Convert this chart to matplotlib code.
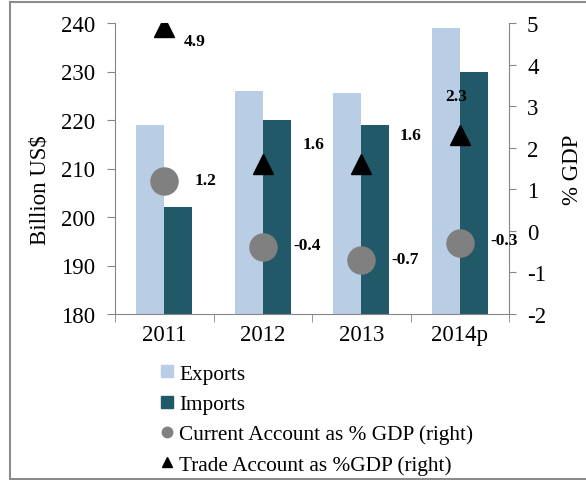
import matplotlib
matplotlib.use("Agg")
import matplotlib.pyplot as plt
import numpy as np
from matplotlib.lines import Line2D

years = ["2011", "2012", "2013", "2014p"]
exports = [219.0, 226.0, 225.5, 239.0]
imports = [202.0, 220.0, 219.0, 230.0]
current_account = [1.2, -0.4, -0.7, -0.3]
trade_account = [4.9, 1.6, 1.6, 2.3]

plt.rcParams['font.family'] = ['Liberation Serif', 'DejaVu Serif']
plt.rcParams['axes.unicode_minus'] = False

W, H = 586, 481
fig = plt.figure(figsize=(W / 100, H / 100), dpi=100)

# frame around the chart
for (x0, y0, x1, y1) in [(10, 3, 10, 480), (10, 3, 586, 3), (10, 480, 586, 480)]:
    fig.add_artist(Line2D([x0 / W, x1 / W], [1 - y0 / H, 1 - y1 / H],
                          transform=fig.transFigure, color='#8c8c8c', lw=1.5))

left, right, top, bottom = 115, 509, 24, 315
ax = fig.add_axes([left / W, 1 - bottom / H, (right - left) / W, (bottom - top) / H])
ax2 = ax.twinx()

x = np.arange(len(years))
bw = 0.285
c_exp = '#B9CDE5'
c_imp = '#215968'
ax.bar(x - bw / 2, exports, width=bw, color=c_exp, zorder=2)
ax.bar(x + bw / 2, imports, width=bw, color=c_imp, zorder=2)

gray = '#868686'
fs = 16.5
ax.set_ylim(180, 240)
ax.set_xlim(-0.5, len(years) - 0.5)
ax.set_yticks(np.arange(180, 241, 10))
ax.set_xticks(x)
ax.set_xticklabels(years)
ax.set_xticks(np.arange(-0.5, len(years), 1), minor=True)
ax.tick_params(axis='x', which='major', length=0, labelsize=fs, pad=7)
ax.tick_params(axis='x', which='minor', length=5.5, color=gray, direction='out')
ax.tick_params(axis='y', length=5.5, color=gray, labelsize=fs, pad=9)

for a in (ax, ax2):
    a.spines['top'].set_visible(False)
    for s in ('left', 'right', 'bottom'):
        a.spines[s].set_color(gray)
ax.spines['right'].set_visible(False)
ax2.spines['left'].set_visible(False)
ax2.spines['bottom'].set_visible(False)

ax2.set_ylim(-2, 5)
ax2.set_yticks(np.arange(-2, 6, 1))
ax2.tick_params(axis='y', length=5, color=gray, labelsize=fs, pad=8)

fig.text(40 / W, 1 - 190 / H, 'Billion US$', rotation=90, ha='center', va='center', fontsize=fs)
fig.text(572 / W, 1 - 170 / H, '% GDP', rotation=90, ha='center', va='center', fontsize=fs)

ax2.plot(x, current_account, linestyle='none', marker='o', markersize=19.5,
         color='#808080', zorder=3)
ax2.plot(x, trade_account, linestyle='none', marker='^', markersize=15,
         color='black', zorder=3)

ca_off = [(41, 1), (44, 2), (44, 1), (44, 3)]
ta_off = [(30, -14), (51, 20), (49, 29), (-4, 39)]
for i in range(len(years)):
    ax2.annotate(f"{current_account[i]:.1f}", (x[i], current_account[i]),
                 xytext=ca_off[i], textcoords='offset pixels', ha='center', va='center',
                 fontsize=12.5, fontweight='bold')
    ax2.annotate(f"{trade_account[i]:.1f}", (x[i], trade_account[i]),
                 xytext=ta_off[i], textcoords='offset pixels', ha='center', va='center',
                 fontsize=12.5, fontweight='bold')

handles = [
    Line2D([], [], linestyle='none', marker='s', markersize=8, color=c_exp),
    Line2D([], [], linestyle='none', marker='s', markersize=8, color=c_imp),
    Line2D([], [], linestyle='none', marker='o', markersize=7.5, color='#808080'),
    Line2D([], [], linestyle='none', marker='^', markersize=7.5, color='black'),
]
labels = ['Exports', 'Imports', 'Current Account as % GDP (right)',
          'Trade Account as %GDP (right)']
fig.legend(handles, labels, loc='upper left', bbox_to_anchor=(161 / W, 1 - 365 / H),
           frameon=False, fontsize=15.3, handlelength=0.6, handletextpad=0.25,
           labelspacing=0.49, borderpad=0, borderaxespad=0)

fig.savefig('out.png', dpi=100)
